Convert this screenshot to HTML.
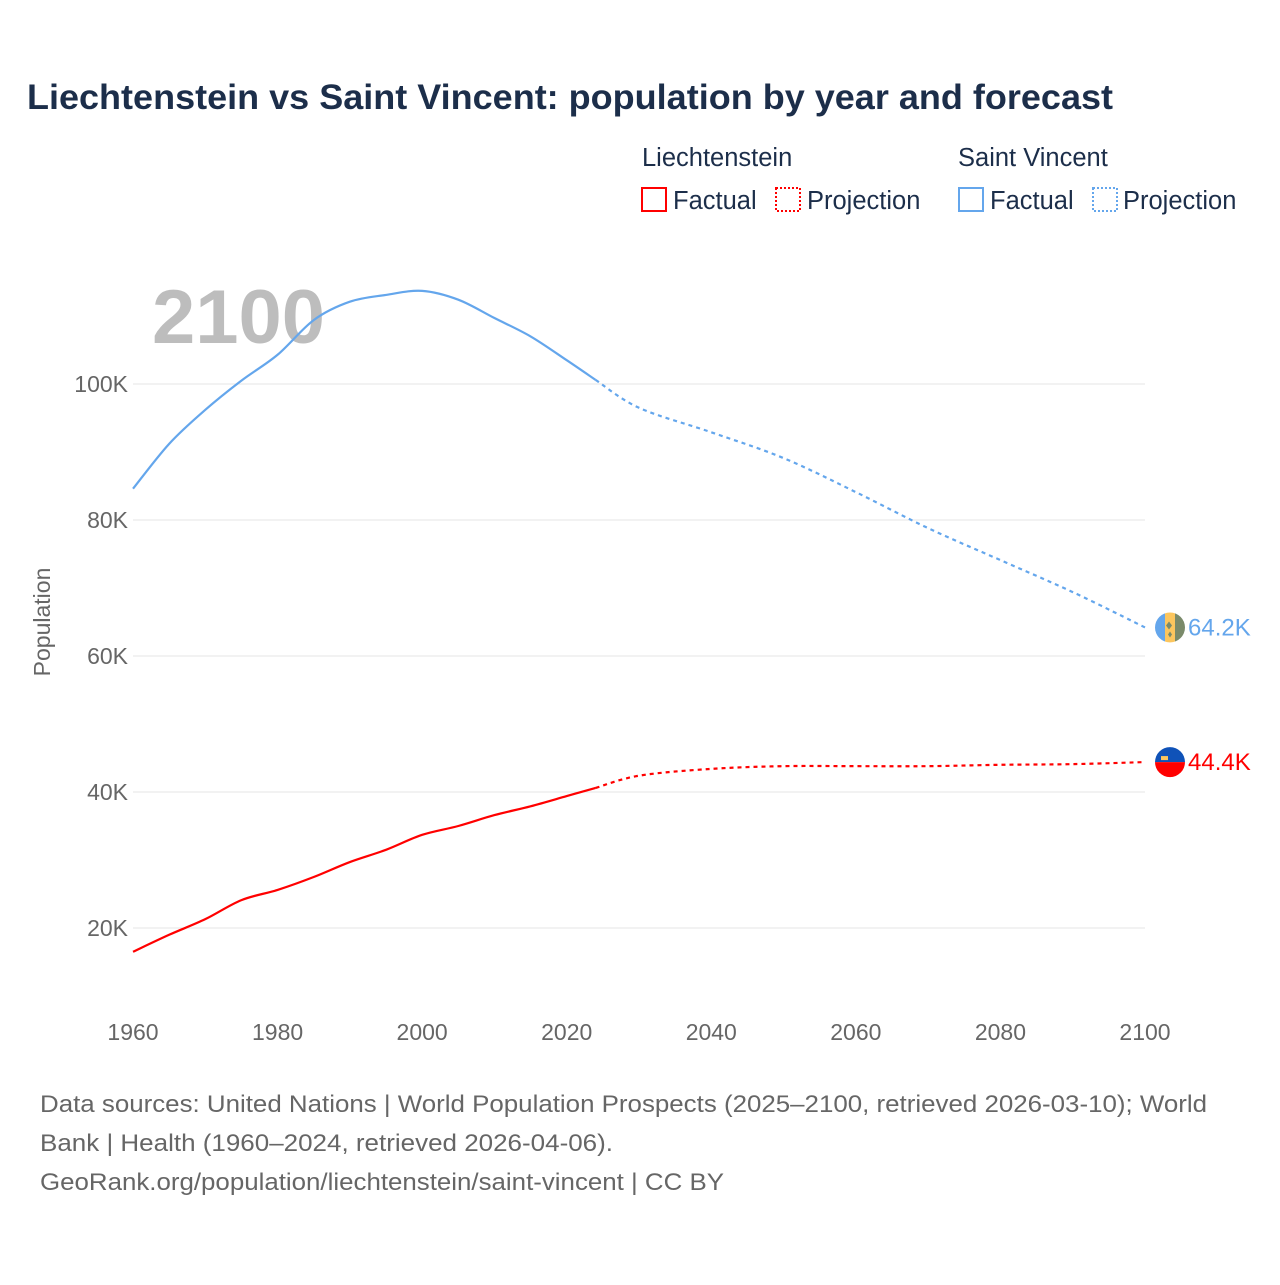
<!DOCTYPE html>
<html><head><meta charset="utf-8"><style>
body{margin:0;background:#fff;font-family:"Liberation Sans",sans-serif;}
svg text{font-family:"Liberation Sans",sans-serif;}
</style></head><body>
<svg id="chart" width="1280" height="1280" viewBox="0 0 1280 1280">
<rect width="1280" height="1280" fill="#fff"/>
<text x="27" y="109" font-size="35" font-weight="bold" fill="#1c2e4a" textLength="1086" lengthAdjust="spacingAndGlyphs">Liechtenstein vs Saint Vincent: population by year and forecast</text>
<g font-size="25.5" fill="#1c2e4a">
<text x="642" y="166" fill="#1c2e4a">Liechtenstein</text>
<text x="958" y="166" fill="#1c2e4a">Saint Vincent</text>
<g><rect x="642" y="188" width="24" height="23" fill="none" stroke="#f00" stroke-width="2"/><text x="673" y="209" fill="#1c2e4a">Factual</text></g>
<g><rect x="776" y="188" width="24" height="23" fill="none" stroke="#f00" stroke-width="2" stroke-dasharray="2,2"/><text x="807" y="209" fill="#1c2e4a">Projection</text></g>
<g><rect x="959" y="188" width="24" height="23" fill="none" stroke="#64a6ec" stroke-width="2"/><text x="990" y="209" fill="#1c2e4a">Factual</text></g>
<g><rect x="1093" y="188" width="24" height="23" fill="none" stroke="#64a6ec" stroke-width="2" stroke-dasharray="2,2"/><text x="1123" y="209" fill="#1c2e4a">Projection</text></g>
</g>
<text x="152" y="343" font-size="76" font-weight="bold" fill="#bdbdbd" textLength="173" lengthAdjust="spacingAndGlyphs">2100</text>
<g id="grid"></g>
<g id="xaxis"></g>
<text transform="translate(50,622) rotate(-90)" text-anchor="middle" font-size="23" fill="#666">Population</text>
<g id="series"></g>
<g id="ends"></g>
<g font-size="24" fill="#666">
<text x="40" y="1112" textLength="1167" lengthAdjust="spacingAndGlyphs">Data sources: United Nations | World Population Prospects (2025–2100, retrieved 2026-03-10); World</text>
<text x="40" y="1151" textLength="573" lengthAdjust="spacingAndGlyphs">Bank | Health (1960–2024, retrieved 2026-04-06).</text>
<text x="40" y="1190" textLength="684" lengthAdjust="spacingAndGlyphs">GeoRank.org/population/liechtenstein/saint-vincent | CC BY</text>
</g>
</svg>
<script>
const years=[1960,1965,1970,1975,1980,1985,1990,1995,2000,2005,2010,2015,2020,2024,2030,2040,2050,2060,2070,2080,2090,2100];
const svValues=[84.6,91.2,96.2,100.5,104.3,109.4,112.1,113.1,113.7,112.4,109.7,107.0,103.5,100.6,96.5,92.9,89.1,84.1,78.8,74.1,69.4,64.2];
const liValues=[16.5,19.0,21.3,24.1,25.6,27.5,29.7,31.5,33.7,35.0,36.6,37.9,39.4,40.6,42.4,43.4,43.8,43.8,43.8,44.0,44.1,44.4];
const yTicks=[20,40,60,80,100];
const xTicks=[1960,1980,2000,2020,2040,2060,2080,2100];
const lastFactual=2024;
const NS='http://www.w3.org/2000/svg';
const X=y=>133+(y-1960)*(1012/140);
const Y=v=>1064-v*6.8;
function mk(t,a,p){const e=document.createElementNS(NS,t);for(const k in a)e.setAttribute(k,a[k]);p.appendChild(e);return e;}
const grid=document.getElementById('grid');
yTicks.forEach(t=>{
 const l=mk('line',{x1:133,x2:1145,y1:Y(t),y2:Y(t),stroke:'#e6e6e6','stroke-width':1},grid);
 
 
 const tx=mk('text',{x:128,y:Y(t)+8,'text-anchor':'end','font-size':23,fill:'#666'},grid);
 tx.textContent=t+'K';
 
 
});
const xa=document.getElementById('xaxis');
xTicks.forEach(t=>{
 const tx=mk('text',{x:X(t),y:1040,'text-anchor':'middle','font-size':23,fill:'#666'},xa);
 tx.textContent=t;
 
 
});
function smooth(pts){
 let d='M'+pts[0][0]+','+pts[0][1];
 for(let i=0;i<pts.length-1;i++){
  const p0=pts[i-1]||pts[i],p1=pts[i],p2=pts[i+1],p3=pts[i+2]||p2;
  const c1=[p1[0]+(p2[0]-p0[0])/6,p1[1]+(p2[1]-p0[1])/6];
  const c2=[p2[0]-(p3[0]-p1[0])/6,p2[1]-(p3[1]-p1[1])/6];
  d+=' C'+c1+' '+c2+' '+p2;
 }
 return d;
}
const ser=document.getElementById('series');
function draw(vals,color,name){
 const f=[],p=[];
 years.forEach((yr,i)=>{const pt=[X(yr),Y(vals[i])];if(yr<=lastFactual)f.push(pt);if(yr>=lastFactual)p.push(pt);});
 const a=mk('path',{d:smooth(f),fill:'none',stroke:color,'stroke-width':2.2},ser);
 
 
 const b=mk('path',{d:smooth(p),fill:'none',stroke:color,'stroke-width':2.2,'stroke-dasharray':'4,4'},ser);
 
 
}
draw(svValues,'#64a6ec','saint-vincent');
draw(liValues,'#f00','liechtenstein');
const ends=document.getElementById('ends');
const svY=Y(svValues[svValues.length-1]), liY=Y(liValues[liValues.length-1]);
const g1=mk('g',{},ends);


mk('clipPath',{id:'c1'},g1).appendChild(document.createElementNS(NS,'circle'));
const c1=g1.querySelector('circle');c1.setAttribute('cx',1170);c1.setAttribute('cy',svY);c1.setAttribute('r',15);
mk('rect',{x:1155,y:svY-15,width:10,height:30,fill:'#64a6ec','clip-path':'url(#c1)'},g1);
mk('rect',{x:1165,y:svY-15,width:10,height:30,fill:'#fcc65e','clip-path':'url(#c1)'},g1);
mk('rect',{x:1175,y:svY-15,width:10,height:30,fill:'#7a8a6a','clip-path':'url(#c1)'},g1);
mk('path',{d:`M1166,${svY-2} l3,4 l3,-4 l-3,-4z M1170,${svY+4} l2,3 l-2,3 l-2,-3z`,fill:'#7a8a6a'},g1);
const t1=mk('text',{x:1188,y:svY+8,'font-size':24,fill:'#64a6ec'},ends);
t1.textContent=svValues[svValues.length-1].toFixed(1)+'K';


const g2=mk('g',{},ends);


mk('path',{d:`M1155,${liY} a15,15 0 0 1 30,0z`,fill:'#0f52b8'},g2);
mk('path',{d:`M1155,${liY} a15,15 0 0 0 30,0z`,fill:'#f00'},g2);
mk('rect',{x:1161,y:liY-6,width:7,height:4,fill:'#fcc65e'},g2);
const t2=mk('text',{x:1188,y:liY+8,'font-size':24,fill:'#f00'},ends);
t2.textContent=liValues[liValues.length-1].toFixed(1)+'K';


</script>
</body></html>
